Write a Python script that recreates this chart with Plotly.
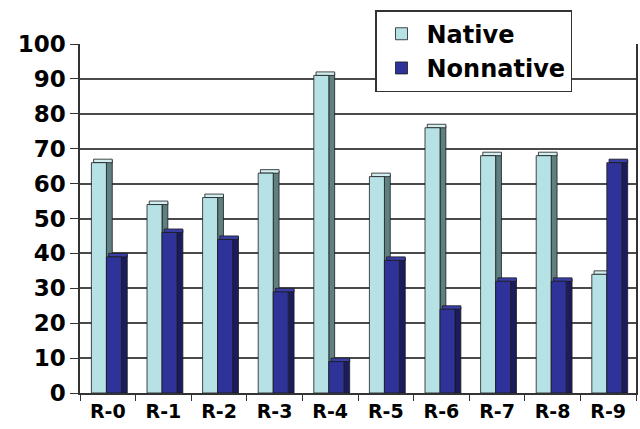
import plotly.graph_objects as go

categories = ["R-0", "R-1", "R-2", "R-3", "R-4", "R-5", "R-6", "R-7", "R-8", "R-9"]
native = [66, 54, 56, 63, 91, 62, 76, 68, 68, 34]
nonnative = [39, 46, 44, 29, 9, 38, 24, 32, 32, 66]
y_ticks = [0, 10, 20, 30, 40, 50, 60, 70, 80, 90, 100]

FONT = "DejaVu Sans, Liberation Sans, Arial, sans-serif"
FRONT_W = 0.27
SIDE_W = 0.105
DEPTH = 1.0  # y-units of the 3D top face

series = [
    ("Native", native, -0.295, "#B6E2E5", "#5F8080", "#D2EEF0"),
    ("Nonnative", nonnative, -0.025, "#2F3399", "#1A1C5E", "#3A3FA8"),
]

fig = go.Figure()
for name, vals, off, front, side, top in series:
    # side face
    fig.add_trace(go.Bar(
        x=categories, y=[v + DEPTH * 0.6 for v in vals], offset=off + FRONT_W, width=SIDE_W,
        marker=dict(color=side, line=dict(color="#1a1a1a", width=0.8)),
        showlegend=False, hoverinfo="skip"))
    # top face
    fig.add_trace(go.Bar(
        x=categories, y=[DEPTH] * len(vals), base=vals, offset=off + 0.04, width=FRONT_W + SIDE_W - 0.04,
        marker=dict(color=top, line=dict(color="#1a1a1a", width=0.8)),
        showlegend=False, hoverinfo="skip"))
    # front face
    fig.add_trace(go.Bar(
        x=categories, y=vals, offset=off, width=FRONT_W, name=name,
        marker=dict(color=front, line=dict(color="#1a1a1a", width=0.8))))

fig.update_layout(
    width=640, height=429,
    barmode="overlay",
    margin=dict(l=80, r=4, t=44, b=36, autoexpand=False),
    paper_bgcolor="white", plot_bgcolor="white",
    font=dict(family=FONT, color="black"),
    showlegend=True,
    legend=dict(
        x=0.5306, y=1.097, xanchor="left", yanchor="top",
        bgcolor="white", bordercolor="#333333", borderwidth=1.5,
        font=dict(family=FONT, size=24, color="black", weight="bold"),
        traceorder="normal", itemwidth=40, tracegroupgap=0,
    ),
    xaxis=dict(
        type="category", range=[-0.5, 9.5],
        showline=True, linecolor="#333333", linewidth=1.5,
        ticks="outside", tickson="boundaries", ticklen=6, tickcolor="#333333",
        tickfont=dict(family=FONT, size=19, color="black", weight="bold"),
        showgrid=False,
    ),
    yaxis=dict(
        range=[0, 100], tickvals=y_ticks,
        showline=True, linecolor="#333333", linewidth=1.5, mirror=True,
        ticks="outside", ticklen=8, tickcolor="#333333",
        tickfont=dict(family=FONT, size=23, color="black", weight="bold"),
        showgrid=True, gridcolor="#4a4a4a", gridwidth=1.5,
        zeroline=False,
    ),
)

fig.write_html("out.html", config={"displayModeBar": False},
               post_script="document.body.style.margin='0';")
